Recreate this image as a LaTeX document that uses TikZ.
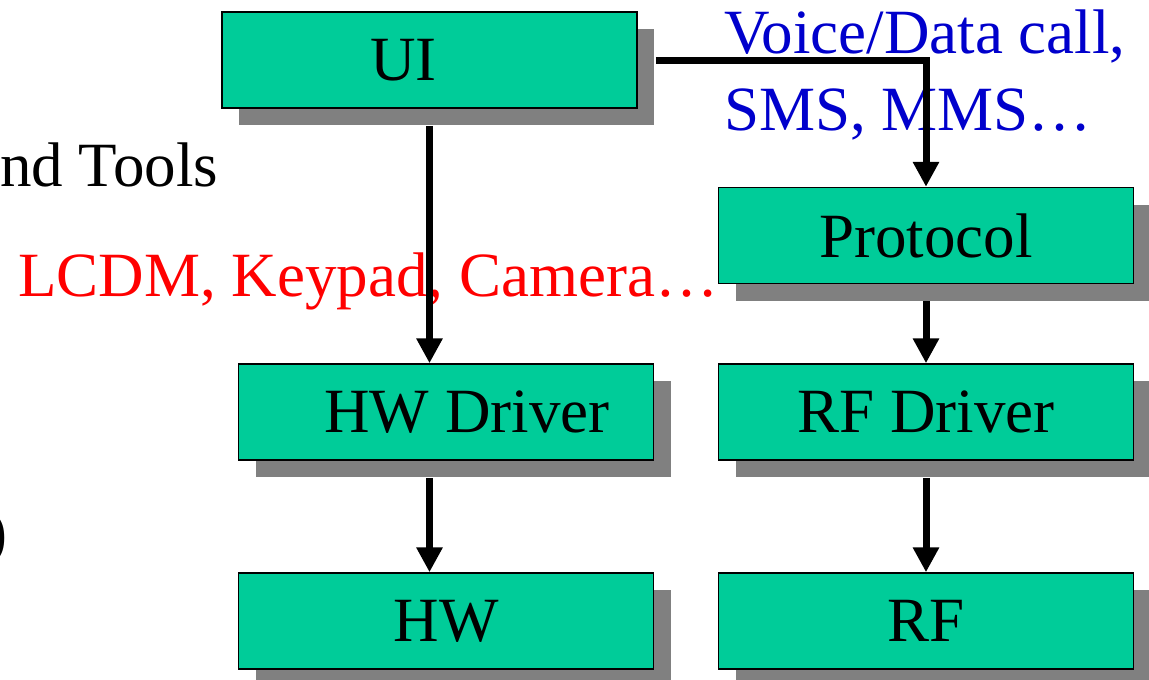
\documentclass[tikz,border=0pt]{standalone}
\usepackage{fontspec}
\setmainfont{Liberation Serif}
\usepackage{xcolor}
\usetikzlibrary{positioning,shadows,arrows.meta}
\definecolor{boxgreen}{HTML}{00CC99}
\definecolor{shadowgray}{HTML}{808080}
\definecolor{callblue}{HTML}{0000CC}

\begin{document}
\begin{tikzpicture}[x=1pt, y=1pt, >={Triangle[width=25pt,length=25pt]},
  every node/.style={font=\fontsize{63}{77}\selectfont, inner sep=0pt},
  block/.style={draw, line width=1.5pt, fill=boxgreen, minimum width=415pt, minimum height=96pt,
    drop shadow={shadow xshift=17pt, shadow yshift=-17pt, fill=shadowgray, opacity=1}},
  link/.style={->, line width=7pt}]
\useasboundingbox (0,0) rectangle (1149,-680);

% Side notes
\node[anchor=base west] (tools) at (0,-186) {nd Tools};
\node[anchor=base west] (paren) at (-14,-553) {)};
\node[anchor=base west, text=red] (devices) at (18,-296) {LCDM, Keypad, Camera…};
\node[anchor=base west, text=callblue, align=left] (calls) at (724,-130) {Voice/Data call,\\SMS, MMS…};

% Blocks
\node[block] (UI) at (429.5,-60) {UI\hspace*{52pt}};
\node[block] (Proto) at (926,-235.5) {Protocol};
\node[block, below of=Proto, node distance=176.5pt] (RFD) {RF Driver};
\node[block, below of=RFD, node distance=209pt] (RF) {RF};
\node[block, left of=RFD, node distance=480pt] (HWD) {\hspace*{42pt}HW Driver};
\node[block, left of=RF, node distance=480pt] (HW) {HW};

% Links
\draw[link, shorten <=17pt] (UI.south) -- (UI.south |- HWD.north);
\draw[link, shorten <=18pt] (UI.east) -| (Proto.north);
\draw[link, shorten <=17pt] (UI.south |- HWD.south) -- (UI.south |- HW.north);
\draw[link, shorten <=17pt] (Proto.south) -- (RFD.north);
\draw[link, shorten <=17pt] (RFD.south) -- (RF.north);
\end{tikzpicture}
\end{document}
